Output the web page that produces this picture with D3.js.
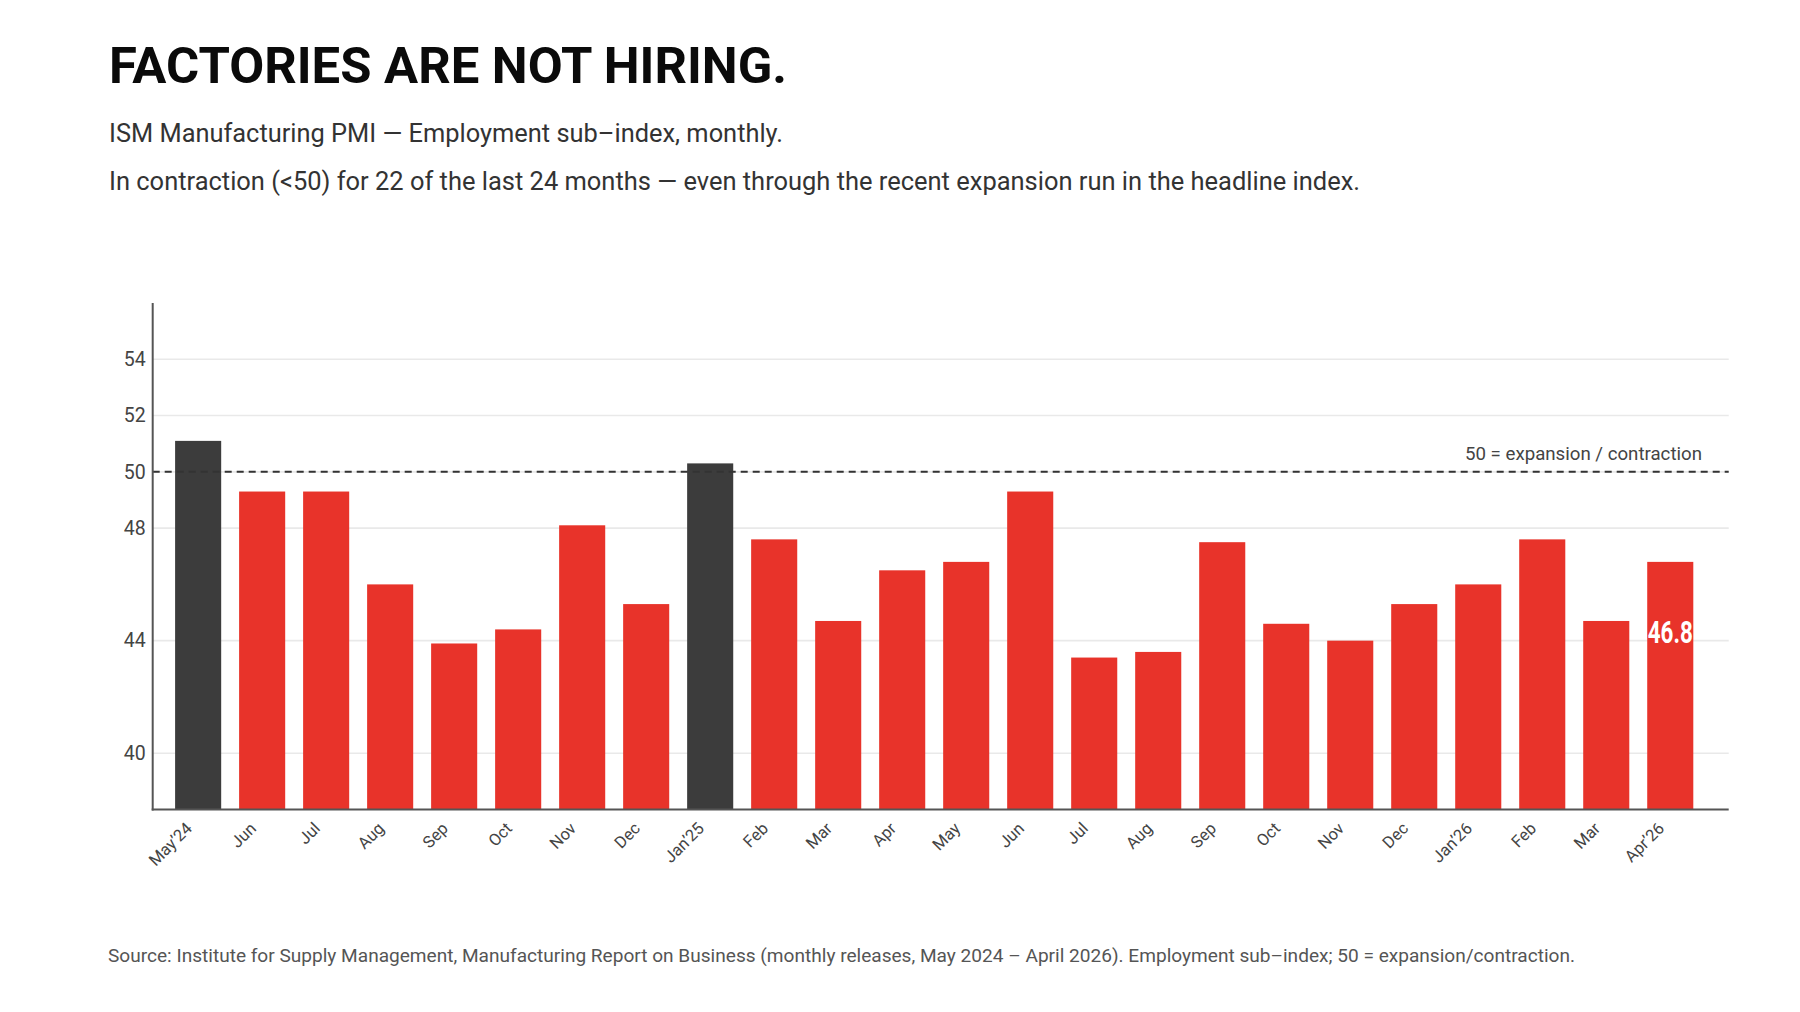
<!DOCTYPE html>
<html>
<head>
<meta charset="utf-8">
<script src="https://cdn.jsdelivr.net/npm/d3@7"></script>
<style>
  html, body { margin: 0; padding: 0; background: #ffffff; }
  svg { display: block; }
</style>
</head>
<body>
<svg id="chart" width="1800" height="1012"></svg>
<script>
// ---- data ----
const months = ["May\u201924","Jun","Jul","Aug","Sep","Oct","Nov","Dec","Jan\u201925","Feb","Mar","Apr","May","Jun ","Jul ","Aug ","Sep ","Oct ","Nov ","Dec ","Jan\u201926","Feb ","Mar ","Apr\u201926"];
const values = [51.1,49.3,49.3,46.0,43.9,44.4,48.1,45.3,50.3,47.6,44.7,46.5,46.8,49.3,43.4,43.6,47.5,44.6,44.0,45.3,46.0,47.6,44.7,46.8];
const yTicks = [40,44,48,50,52,54];
const yDomain = [38,56];
const threshold = 50;

const titleText = "FACTORIES ARE NOT HIRING.";
const subtitle1 = "ISM Manufacturing PMI \u2014 Employment sub\u2013index, monthly.";
const subtitle2 = "In contraction (<50) for 22 of the last 24 months \u2014 even through the recent expansion run in the headline index.";
const thresholdLabel = "50 = expansion / contraction";
const sourceText = "Source: Institute for Supply Management, Manufacturing Report on Business (monthly releases, May 2024 \u2013 April 2026). Employment sub\u2013index; 50 = expansion/contraction.";

(function () {
// ---- layout ----
const svg = d3.select("#chart");
const pL = 152.7, pR = 1728.7, pT = 303, pB = 809.5;
const RED = "#e8332a", DARK = "#3c3c3c";
const sans = "Roboto, 'Noto Sans', 'DejaVu Sans', sans-serif";

const x = d3.scaleBand().domain(months).range([pL, pL + 1563]).paddingInner(0.28).paddingOuter(0.35);
const y = d3.scaleLinear().domain(yDomain).range([pB, pT]);

// Titles
svg.append("text").attr("x", 109).attr("y", 83)
  .attr("font-family", sans).attr("font-weight", 700).attr("font-size", 50)
  .attr("fill", "#0a0a0a").attr("textLength", 678).attr("lengthAdjust", "spacingAndGlyphs")
  .text(titleText);
svg.append("text").attr("x", 109).attr("y", 142)
  .attr("font-family", sans).attr("font-size", 25).attr("fill", "#333")
  .attr("textLength", 674).attr("lengthAdjust", "spacingAndGlyphs")
  .text(subtitle1);
svg.append("text").attr("x", 109).attr("y", 190)
  .attr("font-family", sans).attr("font-size", 25).attr("fill", "#333")
  .attr("textLength", 1251).attr("lengthAdjust", "spacingAndGlyphs")
  .text(subtitle2);

// Gridlines
svg.append("g").selectAll("line").data(yTicks).join("line")
  .attr("x1", pL).attr("x2", pR)
  .attr("y1", d => y(d)).attr("y2", d => y(d))
  .attr("stroke", "#e9e9e9").attr("stroke-width", 1.6);

// Bars
svg.append("g").selectAll("rect").data(values).join("rect")
  .attr("x", (d, i) => x(months[i]))
  .attr("width", x.bandwidth())
  .attr("y", d => y(d))
  .attr("height", d => y(yDomain[0]) - y(d))
  .attr("fill", d => d >= threshold ? DARK : RED);

// Threshold dashed line
svg.append("line")
  .attr("x1", pL).attr("x2", pR)
  .attr("y1", y(threshold)).attr("y2", y(threshold))
  .attr("stroke", "#333").attr("stroke-width", 2).attr("stroke-dasharray", "7,5");
svg.append("text").attr("x", 1702).attr("y", y(threshold) - 12)
  .attr("text-anchor", "end").attr("font-family", sans).attr("font-size", 18.5)
  .attr("fill", "#444").attr("textLength", 237).attr("lengthAdjust", "spacingAndGlyphs")
  .text(thresholdLabel);

// Y axis
const yAxis = svg.append("g").attr("transform", `translate(${pL},0)`)
  .call(d3.axisLeft(y).tickValues(yTicks).tickSize(0).tickPadding(7).tickFormat(d3.format("d")));
yAxis.select(".domain").remove();
yAxis.selectAll("text").attr("font-family", sans).attr("font-size", 19.5).attr("fill", "#444");

// X axis labels
const xAxis = svg.append("g").attr("transform", `translate(0,${pB})`)
  .call(d3.axisBottom(x).tickSize(0).tickPadding(0));
xAxis.select(".domain").remove();
xAxis.selectAll(".tick text")
  .attr("font-family", sans).attr("font-size", 16.5).attr("fill", "#444")
  .attr("text-anchor", "end").attr("dy", 0).attr("y", 0)
  .attr("transform", "translate(-5,20) rotate(-45)")
  .text(d => d.trim());

// Axis lines
svg.append("line").attr("x1", pL).attr("x2", pL).attr("y1", pT).attr("y2", pB + 1)
  .attr("stroke", "#555").attr("stroke-width", 2);
svg.append("line").attr("x1", pL - 1).attr("x2", pR).attr("y1", pB).attr("y2", pB)
  .attr("stroke", "#555").attr("stroke-width", 2);

// Last value label
const lastI = values.length - 1;
svg.append("text")
  .attr("x", x(months[lastI]) + x.bandwidth() / 2)
  .attr("y", y(values[lastI]) + 81)
  .attr("text-anchor", "middle").attr("font-family", sans).attr("font-weight", 700)
  .attr("font-size", 32).attr("fill", "#fff")
  .attr("textLength", 45).attr("lengthAdjust", "spacingAndGlyphs")
  .text(values[lastI].toFixed(1));

// Source
svg.append("text").attr("x", 108).attr("y", 962)
  .attr("font-family", sans).attr("font-size", 18).attr("fill", "#555")
  .attr("textLength", 1467).attr("lengthAdjust", "spacingAndGlyphs")
  .text(sourceText);
})();
</script>
</body>
</html>
